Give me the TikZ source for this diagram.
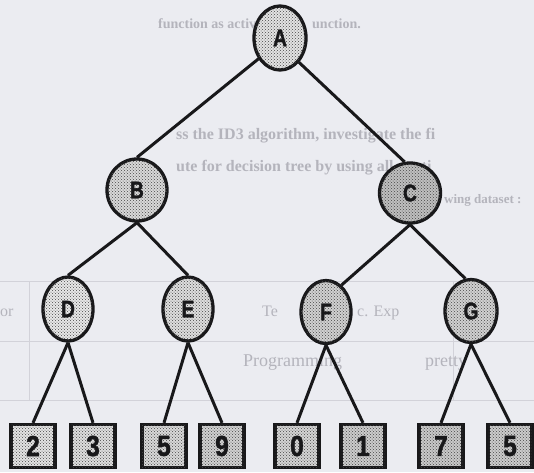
\documentclass[tikz,border=0pt]{standalone}
\usepackage{fontspec}
\setmainfont{Liberation Sans}
\newfontfamily\labelfont[BoldFeatures={FakeBold=1.6}]{Liberation Sans}
\newfontfamily\scanserif{Liberation Serif}
\usetikzlibrary{shapes.geometric,patterns}
\definecolor{paper}{RGB}{235,236,241}
\definecolor{ink}{RGB}{24,24,26}
\definecolor{ghost}{RGB}{180,180,188}
\definecolor{ghostrule}{RGB}{210,210,217}
\tikzset{
  innernode/.style={ellipse, draw=ink, line width=3.3pt, inner sep=0pt, text=ink,
    font=\labelfont\fontsize{24}{24}\selectfont\bfseries,
    postaction={pattern=crosshatch dots, pattern color=gray!55!black}},
  leafnode/.style={rectangle, draw=ink, line width=3.3pt, inner sep=0pt,
    minimum width=44pt, minimum height=43pt, text=ink,
    font=\labelfont\fontsize{29}{29}\selectfont\bfseries,
    postaction={pattern=crosshatch dots, pattern color=gray!55!black}},
  edgeline/.style={draw=ink, line width=3pt},
  ghosttext/.style={text=ghost, anchor=base west, inner sep=0pt,
    font=\scanserif\fontsize{16}{16}\selectfont\bfseries},
  ghostrule/.style={draw=ghostrule, line width=1pt}
}
\begin{document}
\begin{tikzpicture}[x=1pt,y=-1pt]
  \fill[paper] (0,0) rectangle (534,472);
  \useasboundingbox (0,0) rectangle (534,472);

  % faint show-through of the printed page
  \draw[ghostrule] (0,281) -- (534,281);
  \draw[ghostrule] (0,341) -- (534,341);
  \draw[ghostrule] (0,400) -- (534,400);
  \draw[ghostrule] (29,281) -- (29,400);
  \draw[ghostrule] (453,281) -- (453,400);
  \node[ghosttext, font=\scanserif\fontsize{14}{14}\selectfont\bfseries] (g1a) at (158,28) {function as activatio};
  \node[ghosttext, font=\scanserif\fontsize{14}{14}\selectfont\bfseries] (g1b) at (312,28) {unction.};
  \node[ghosttext] (g2) at (176,139) {ss the ID3 algorithm, investigate the fi};
  \node[ghosttext] (g3) at (176,171) {ute for decision tree by using all conti};
  \node[ghosttext, font=\scanserif\fontsize{13}{13}\selectfont\bfseries] (g4) at (444,203) {wing dataset :};
  \node[ghosttext, font=\scanserif\fontsize{16}{16}\selectfont] (g5) at (0,316) {or};
  \node[ghosttext, font=\scanserif\fontsize{16}{16}\selectfont] (g6) at (357,316) {c. Exp};
  \node[ghosttext, font=\scanserif\fontsize{16}{16}\selectfont] (g7) at (262,316) {Te};
  \node[ghosttext, font=\scanserif\fontsize{18}{18}\selectfont] (g8) at (243,366) {Programming};
  \node[ghosttext, font=\scanserif\fontsize{18}{18}\selectfont] (g9) at (425,366) {pretty};

  % inner nodes
  \node[innernode, fill=gray!22, minimum width=52pt, minimum height=64pt] (A) at (280,38) {\scalebox{0.8}[1]{A}};
  \node[innernode, fill=gray!30, minimum width=60pt, minimum height=62pt] (B) at (137,190) {\scalebox{0.8}[1]{B}};
  \node[innernode, fill=gray!50, minimum width=61pt, minimum height=60pt] (C) at (410,193) {\scalebox{0.8}[1]{C}};
  \node[innernode, fill=gray!18, minimum width=50pt, minimum height=64pt] (D) at (68,309) {\scalebox{0.8}[1]{D}};
  \node[innernode, fill=gray!26, minimum width=50pt, minimum height=64pt] (E) at (188,309) {\scalebox{0.8}[1]{E}};
  \node[innernode, fill=gray!36, minimum width=50pt, minimum height=63pt] (F) at (326,312) {\scalebox{0.8}[1]{F}};
  \node[innernode, fill=gray!36, minimum width=52pt, minimum height=63pt] (G) at (471,311) {\scalebox{0.8}[1]{G}};

  % leaves
  \node[leafnode, fill=gray!22] (l2) at (33,446) {\scalebox{0.85}[1]{2}};
  \node[leafnode, fill=gray!26] (l3) at (93,446) {\scalebox{0.85}[1]{3}};
  \node[leafnode, fill=gray!30] (l5a) at (164,446) {\scalebox{0.85}[1]{5}};
  \node[leafnode, fill=gray!36] (l9) at (222,446) {\scalebox{0.85}[1]{9}};
  \node[leafnode, fill=gray!34] (l0) at (297,446) {\scalebox{0.85}[1]{0}};
  \node[leafnode, fill=gray!40] (l1) at (363,446) {\scalebox{0.85}[1]{1}};
  \node[leafnode, fill=gray!42] (l7) at (441,446) {\scalebox{0.85}[1]{7}};
  \node[leafnode, fill=gray!40] (l5b) at (510,446) {\scalebox{0.85}[1]{5}};

  % connectors
  \draw[edgeline] (A.-136) -- (B.north);
  \draw[edgeline] (A.-52) -- (C.100);
  \draw[edgeline] (B.south) -- (D.north);
  \draw[edgeline] (B.south) -- (E.north);
  \draw[edgeline] (C.south) -- (F.60);
  \draw[edgeline] (C.south) -- (G.100);
  \draw[edgeline] (D.south) -- (l2.north);
  \draw[edgeline] (D.south) -- (l3.north);
  \draw[edgeline] (E.south) -- (l5a.north);
  \draw[edgeline] (E.south) -- (l9.north);
  \draw[edgeline] (F.south) -- (l0.north);
  \draw[edgeline] (F.south) -- (l1.north);
  \draw[edgeline] (G.south) -- (l7.north);
  \draw[edgeline] (G.south) -- (l5b.north);
\end{tikzpicture}
\end{document}
